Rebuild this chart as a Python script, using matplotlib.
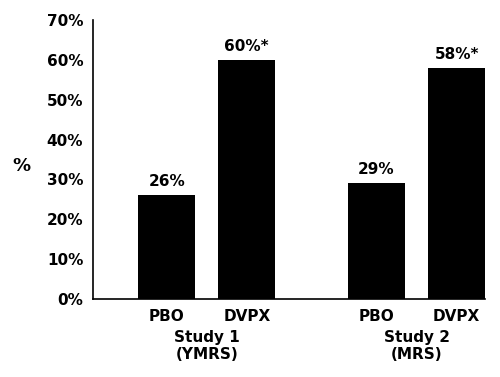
import matplotlib
matplotlib.use("Agg")
from matplotlib import pyplot as plt
import numpy as np

plt.rcParams['font.family'] = ['Liberation Sans Narrow', 'DejaVu Sans']
plt.rcParams['font.weight'] = 'bold'

bar_labels = ["PBO", "DVPX", "PBO", "DVPX"]
values = [26, 60, 29, 58]
value_texts = ["26%", "60%*", "29%", "58%*"]
groups = ["Study 1\n(YMRS)", "Study 2\n(MRS)"]
yticks = [0, 10, 20, 30, 40, 50, 60, 70]

x = np.array([0, 1, 2.62, 3.62])
width = 0.71
fs = 11

fig = plt.figure(figsize=(5, 3.77), dpi=100)
ax = fig.add_axes([93/500, 1 - 299/377, (485 - 93)/500, (299 - 20)/377])

ax.bar(x, values, width=width, color='black')
for xi, v, t in zip(x, values, value_texts):
  ax.text(xi, v + 1.5, t, ha='center', va='bottom', fontsize=fs, fontweight='bold')

ax.set_xlim(x[0] - 0.92, x[-1] + width/2)
ax.set_ylim(0, 70)
ax.set_yticks(yticks)
ax.set_yticklabels(["%d%%" % t for t in yticks], fontsize=fs, fontweight='bold')
ax.set_xticks(x)
ax.set_xticklabels(bar_labels, fontsize=fs, fontweight='bold')
ax.tick_params(axis='both', length=0)
ax.tick_params(axis='y', pad=7)
ax.tick_params(axis='x', pad=7)

for s in ['top', 'right']:
  ax.spines[s].set_visible(False)
for s in ['left', 'bottom']:
  ax.spines[s].set_linewidth(1.2)

for i, g in enumerate(groups):
  gx = (x[2*i] + x[2*i + 1]) / 2
  ax.text(gx, -7.8, g, ha='center', va='top', fontsize=fs, fontweight='bold',
          linespacing=1.2, transform=ax.transData)

fig.text(21/500, 1 - 166/377, "%", ha='center', va='center', fontsize=13, fontweight='bold')

fig.savefig("out.png", dpi=100)
